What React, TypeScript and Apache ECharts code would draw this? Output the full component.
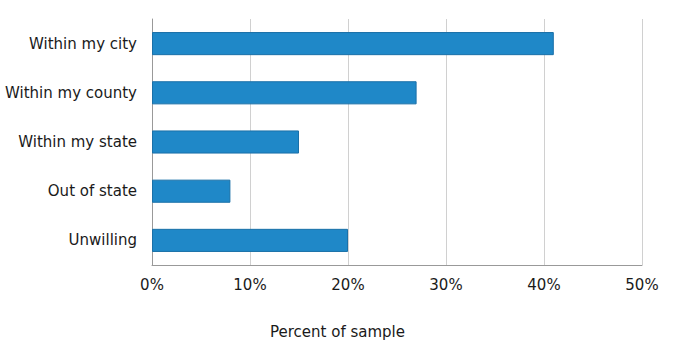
import React, { useEffect, useRef } from "react";
import * as echarts from "echarts";

const categories = ["Within my city", "Within my county", "Within my state", "Out of state", "Unwilling"];
const values = [41, 27, 15, 8, 20];
const xTicks = [0, 10, 20, 30, 40, 50];
const xAxisTitle = "Percent of sample";

export default function App() {
  const ref = useRef<HTMLDivElement>(null);
  useEffect(() => {
    document.body.style.margin = "0";
    const chart = echarts.init(ref.current!, null, { renderer: "svg" });
    const font = "DejaVu Sans, Verdana, sans-serif";
    chart.setOption({
      animation: false,
      grid: { left: 152, right: 33, top: 19, bottom: 98, containLabel: false },
      xAxis: {
        type: "value",
        min: xTicks[0],
        max: xTicks[xTicks.length - 1],
        interval: 10,
        axisLine: { show: true, lineStyle: { color: "#999", width: 1 } },
        axisTick: { show: false },
        splitLine: { show: true, lineStyle: { color: "#d0d0d0", width: 1 } },
        axisLabel: { formatter: "{value}%", color: "#1a1a1a", fontSize: 15, fontFamily: font, margin: 12 },
      },
      yAxis: {
        type: "category",
        data: categories,
        inverse: true,
        axisLine: { show: true, lineStyle: { color: "#999", width: 1 } },
        axisTick: { show: false },
        axisLabel: { color: "#1a1a1a", fontSize: 15, fontFamily: font, margin: 15 },
      },
      graphic: [
        {
          type: "text",
          left: "center",
          top: 324,
          style: { text: xAxisTitle, fill: "#1a1a1a", fontSize: 15, fontFamily: font },
        },
      ],
      series: [
        {
          type: "bar",
          data: values,
          barWidth: "47%",
          itemStyle: { color: "#1f88c8", borderColor: "#1a70a8", borderWidth: 1 },
        },
      ],
    });
    return () => chart.dispose();
  }, []);
  return <div ref={ref} style={{ width: 675, height: 363 }} />;
}
